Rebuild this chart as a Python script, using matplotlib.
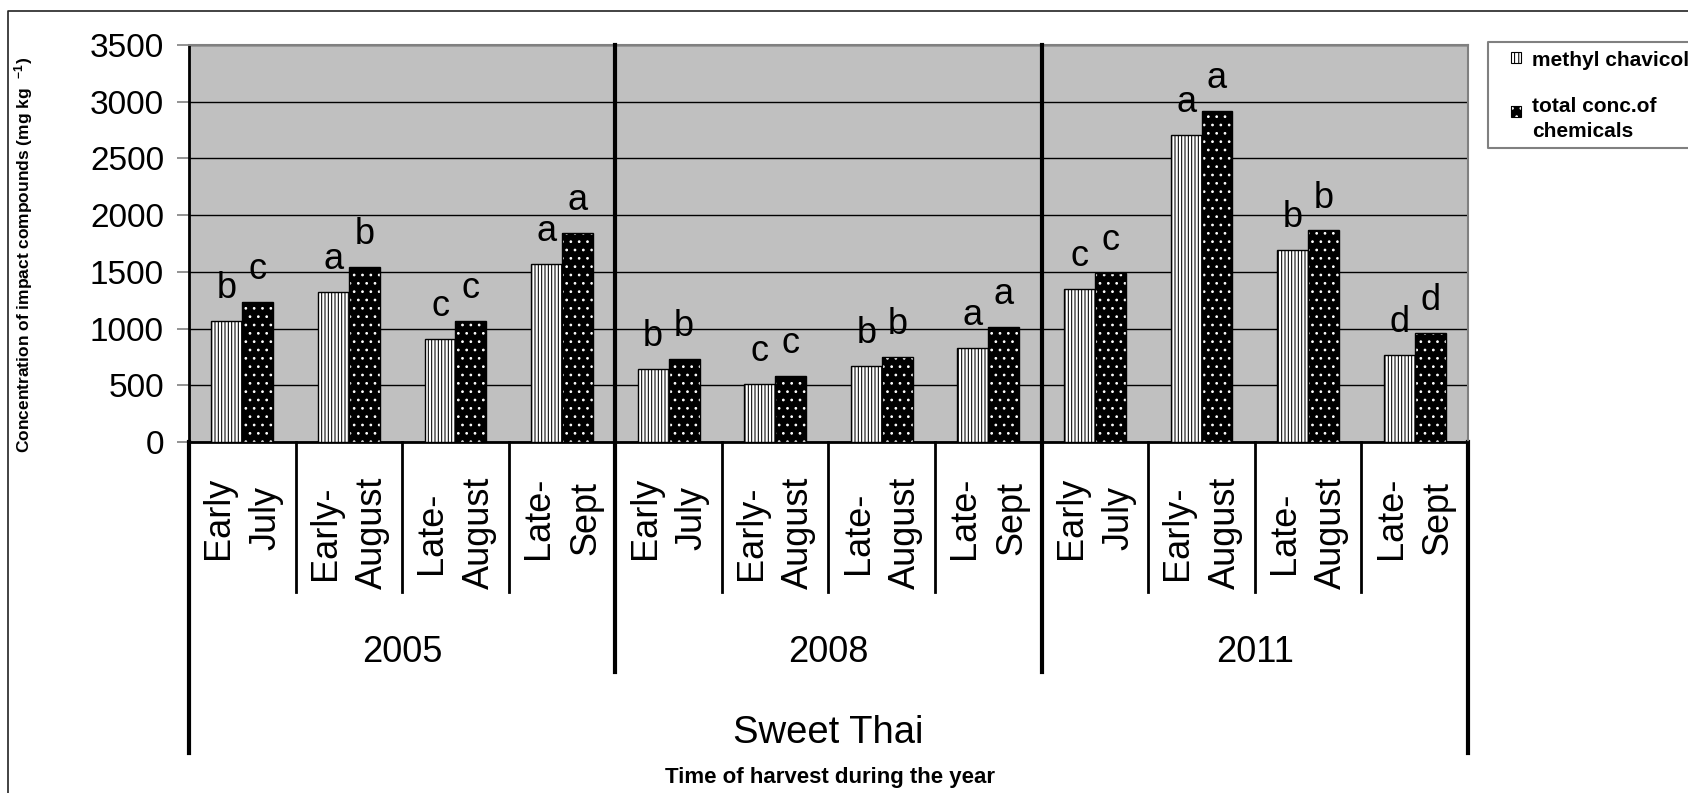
import matplotlib
matplotlib.use("Agg")
import matplotlib.pyplot as plt
import matplotlib.transforms as mtransforms
from matplotlib.patches import Rectangle
from matplotlib.lines import Line2D
import numpy as np

plt.rcParams['font.family'] = ['Liberation Sans', 'DejaVu Sans']
plt.rcParams['hatch.linewidth'] = 0.75
plt.rcParams['mathtext.default'] = 'regular'

# data
years = ["2005", "2008", "2011"]
periods = ["Early\nJuly", "Early-\nAugust", "Late-\nAugust", "Late-\nSept"]
methyl = [1070, 1320, 910, 1570, 640, 510, 670, 830, 1350, 2710, 1690, 770]
total = [1235, 1545, 1070, 1840, 730, 580, 750, 1015, 1490, 2920, 1865, 958]
methyl_letters = ["b", "a", "c", "a", "b", "c", "b", "a", "c", "a", "b", "d"]
total_letters = ["c", "b", "c", "a", "b", "c", "b", "a", "c", "a", "b", "d"]

W, H = 1688, 793
fig = plt.figure(figsize=(W / 100, H / 100), dpi=100)


def fpx(x, y):
    # pixel position -> figure fraction
    return x / W, 1 - y / H


ax_l, ax_r, ax_t, ax_b = 189, 1468, 45, 442
ax = fig.add_axes([ax_l / W, 1 - ax_b / H, (ax_r - ax_l) / W, (ax_b - ax_t) / H])
ax.set_facecolor('#C0C0C0')

x = np.arange(len(methyl))
w = 0.29
ax.bar(x - w / 2, methyl, w, color='white', edgecolor='black', hatch='|||||',
       linewidth=1, zorder=3)
ax.bar(x + w / 2, total, w, color='black', edgecolor='white', hatch='..',
       linewidth=0, zorder=3)
ax.bar(x + w / 2, total, w, fill=False, edgecolor='black', linewidth=1, zorder=4)

for xi, v, t in zip(x - w / 2, methyl, methyl_letters):
    ax.annotate(t, (xi, v), xytext=(0, 16.5), textcoords='offset points',
                ha='center', va='baseline', fontsize=26)
for xi, v, t in zip(x + w / 2, total, total_letters):
    ax.annotate(t, (xi, v), xytext=(0, 16.5), textcoords='offset points',
                ha='center', va='baseline', fontsize=26)

ax.set_xlim(-0.5, 11.5)
ax.set_ylim(0, 3500)
ax.set_yticks(range(0, 3501, 500))
ax.set_xticks([])
ax.yaxis.grid(True, color='black', linewidth=1)
ax.set_axisbelow(True)
ax.tick_params(axis='y', length=9, width=1.2, color='#808080', pad=9, labelsize=24)

ax.spines['left'].set_color('black')
ax.spines['left'].set_linewidth(2)
ax.spines['bottom'].set_color('black')
ax.spines['bottom'].set_linewidth(2)
for s in ['top', 'right']:
    ax.spines[s].set_color('#808080')
    ax.spines[s].set_linewidth(1.5)


# category axis lines below the plot
def yfrac(py):
    return -(py - ax_b) / (ax_b - ax_t)


for b in [0.5, 1.5, 2.5, 4.5, 5.5, 6.5, 8.5, 9.5, 10.5]:
    ax.axvline(b, ymin=yfrac(592), ymax=0, color='black', lw=2, clip_on=False)
for b in [3.5, 7.5]:
    ax.axvline(b, ymin=yfrac(672), ymax=1, color='black', lw=3, clip_on=False, zorder=5)
for b in [-0.5, 11.5]:
    ax.axvline(b, ymin=yfrac(753), ymax=0, color='black', lw=3, clip_on=False)

trans = mtransforms.blended_transform_factory(ax.transData, ax.transAxes)
for k in range(len(methyl)):
    ax.text(k, yfrac(477), periods[k % 4], transform=trans, rotation=90,
            ha='center', va='top', multialignment='center', fontsize=26,
            linespacing=1.45)
for i, yr in enumerate(years):
    ax.text(1.5 + 4 * i, yfrac(662), yr, transform=trans, ha='center',
            va='baseline', fontsize=26)
ax.text(5.5, yfrac(743), "Sweet Thai", transform=trans, ha='center',
        va='baseline', fontsize=27.5)

fig.text(*fpx(830, 783), "Time of harvest during the year", ha='center',
         va='baseline', fontsize=16, fontweight='bold')
fig.text(*fpx(24, 255), "Concentration of impact compounds (mg kg  $^{-1}$)",
         rotation=90, ha='center', va='center', fontsize=12.5, fontweight='bold')

# outer frame (runs off the right and bottom edge)
fx0, fy0 = fpx(8, 11)
fig.add_artist(Line2D([fx0, fx0, 1.0], [0.0, fy0, fy0], transform=fig.transFigure,
                      color='#222222', lw=1.2))

# legend (box runs off the right edge)
lx0, ly0 = fpx(1488, 42)
lx1, ly1 = fpx(1488, 148)
fig.add_artist(Line2D([1.0, lx0, lx0, 1.0], [ly0, ly0, ly1, ly1], transform=fig.transFigure,
                      color='#808080', lw=1.5))
fig.add_artist(Rectangle(fpx(1511, 63), 10 / W, 11 / H, transform=fig.transFigure,
                         facecolor='white', edgecolor='black', hatch='||||', lw=0.8))
fig.add_artist(Rectangle(fpx(1511, 117), 10 / W, 11 / H, transform=fig.transFigure,
                         facecolor='black', edgecolor='white', hatch='..', lw=0))
fig.add_artist(Rectangle(fpx(1511, 117), 10 / W, 11 / H, transform=fig.transFigure,
                         fill=False, edgecolor='black', lw=0.8))
fig.text(*fpx(1532, 66), "methyl chavicol", fontsize=15, fontweight='bold', va='baseline')
fig.text(*fpx(1532, 112), "total conc.of", fontsize=15, fontweight='bold', va='baseline')
fig.text(*fpx(1532, 137), "chemicals", fontsize=15, fontweight='bold', va='baseline')

fig.savefig("out.png", dpi=100)
